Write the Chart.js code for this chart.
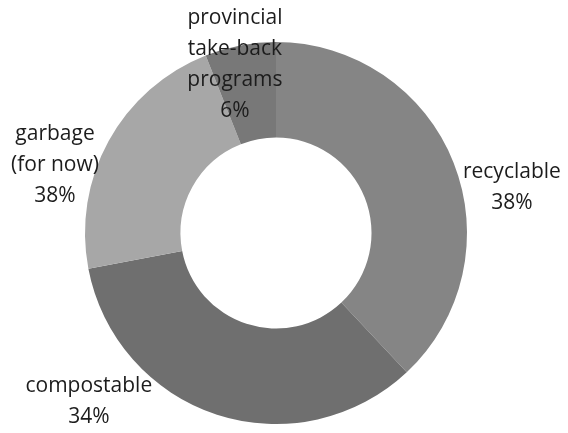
<!DOCTYPE html>
<html>
<head>
<meta charset="utf-8">
<script src="https://cdn.jsdelivr.net/npm/chart.js@4.4.1/dist/chart.umd.min.js"></script>
<style>
  html, body { margin: 0; padding: 0; background: #fff; }
  #wrap { width: 568px; height: 433px; }
</style>
</head>
<body>
<div id="wrap"><canvas id="wasteChart"></canvas></div>
<script>
'use strict';

// Data (clockwise from 12 o'clock)
const categories = ['recyclable', 'compostable', 'garbage (for now)', 'provincial take-back programs'];
const shares = [38, 34, 22, 6];
// label text exactly as printed on the reference
const labelLines = [
    ['recyclable', '38%'],
    ['compostable', '34%'],
    ['garbage', '(for now)', '38%'],
    ['provincial', 'take-back', 'programs', '6%']
];

(function () {
    const sliceColors = ['#858585', '#6f6f6f', '#a7a7a7', '#787878'],
        textColor = '#1c1c1c';

    // label block centre, in outer radii from the doughnut centre
    const labelOffsets = [
        { x: 1.235, y: -0.24 },
        { x: -0.98, y: 0.88 },
        { x: -1.157, y: -0.355 },
        { x: -0.215, y: -0.88 }
    ];

    const outsideLabels = {
        id: 'outsideLabels',
        afterDatasetsDraw(chart) {
            const ctx = chart.ctx;
            const arcs = chart.getDatasetMeta(0).data;
            const lineH = 31;
            ctx.save();
            ctx.font = '21px "Open Sans"';
            ctx.fillStyle = textColor;
            ctx.textAlign = 'center';
            ctx.textBaseline = 'middle';
            arcs.forEach(function (arc, i) {
                const r = arc.outerRadius;
                const cx = arc.x + labelOffsets[i].x * r;
                const cy = arc.y + labelOffsets[i].y * r;
                const lines = labelLines[i];
                const top = cy - (lines.length - 1) * lineH / 2;
                lines.forEach(function (t, j) {
                    ctx.fillText(t, cx, top + j * lineH);
                });
            });
            ctx.restore();
        }
    };

    const el = document.getElementById('wasteChart');
    new Chart(el, {
        type: 'doughnut',
        data: {
            labels: categories,
            datasets: [
                {
                    data: shares,
                    backgroundColor: sliceColors,
                    borderWidth: 0
                }
            ]
        },
        options: {
            responsive: true,
            maintainAspectRatio: false,
            animation: false,
            cutout: '50%',
            layout: {
                padding: { top: 42, bottom: 9, left: 0, right: 16 }
            },
            plugins: {
                legend: { display: false },
                tooltip: { enabled: false }
            }
        },
        plugins: [outsideLabels]
    });
})();
</script>
</body>
</html>
